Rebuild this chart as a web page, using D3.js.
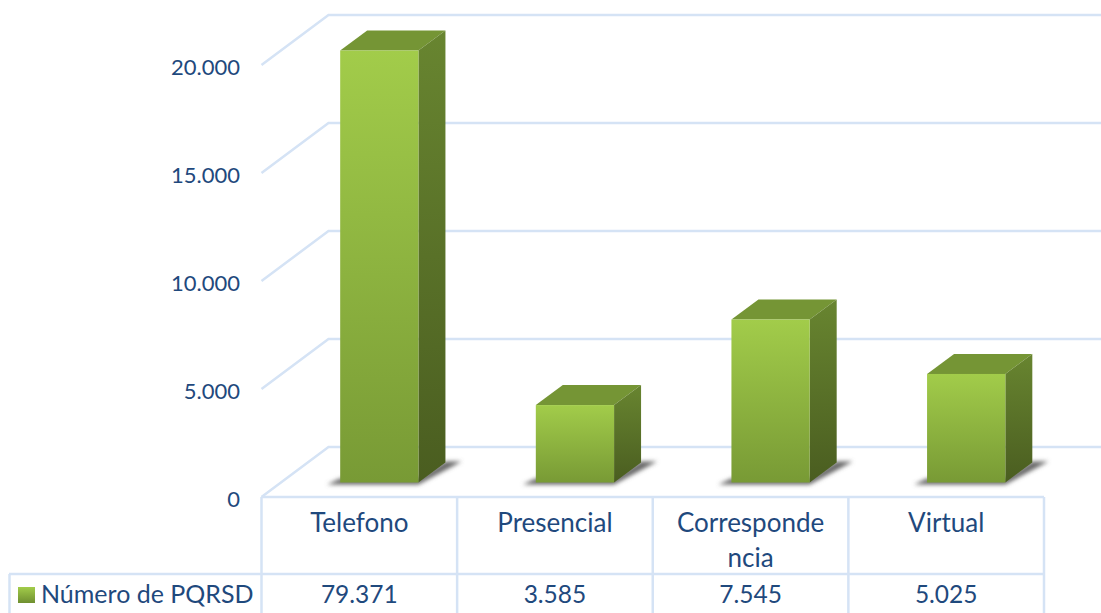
<!DOCTYPE html>
<html>
<head>
<meta charset="utf-8">
<script src="https://cdn.jsdelivr.net/npm/d3@7"></script>
<style>
  html, body { margin: 0; padding: 0; background: #fff; }
  text { font-family: Lato, "Open Sans", sans-serif; font-size: 26px; fill: #1f497d; }
  .tick-label { font-size: 22px; }
  .value-label { font-size: 24.5px; }
  .legend-label { font-size: 25px; }
</style>
</head>
<body>
<div id="chart"></div>
<script>
const categories = ["Telefono", "Presencial", "Correspondencia", "Virtual"];
const categoryLines = [["Telefono"], ["Presencial"], ["Corresponde", "ncia"], ["Virtual"]];
const values = [79371, 3585, 7545, 5025];
const valueLabels = ["79.371", "3.585", "7.545", "5.025"];
const yTicks = [0, 5000, 10000, 15000, 20000];
const seriesName = "Número de PQRSD";

const width = 1101, height = 613;

const gridColor = "#d5e3f5";
const wall = {dx: 67, dy: -50};     // depth of the chart floor
const depth = {dx: 27, dy: -20};    // depth of one bar
const lift = {dx: 20, dy: -14.5};   // bars sit part way back on the floor

let svg = d3.select("#chart").append("svg")
    .attr("width", width)
    .attr("height", height)
    .style("display", "block");

let x = d3.scaleBand().domain(categories).range([261.5, 1044]).paddingInner(0.6).paddingOuter(0.3),
    y = d3.scaleLinear().domain([0, 20000]).range([497, 65]).clamp(true);

let cell = d3.scaleBand().domain(categories).range([261.5, 1044]);

let fmt = d3.format(",");
let yLabel = d => fmt(d).replace(/,/g, ".");

// ===== Gradients =====

let defs = svg.append("defs");

let frontGrad = defs.append("linearGradient").attr("id", "front")
    .attr("x1", 0).attr("y1", 0).attr("x2", 0).attr("y2", 1);
frontGrad.append("stop").attr("offset", "0%").attr("stop-color", "#a2cc4a");
frontGrad.append("stop").attr("offset", "100%").attr("stop-color", "#789a35");

let sideGrad = defs.append("linearGradient").attr("id", "side")
    .attr("x1", 0).attr("y1", 0).attr("x2", 0).attr("y2", 1);
sideGrad.append("stop").attr("offset", "0%").attr("stop-color", "#688530");
sideGrad.append("stop").attr("offset", "100%").attr("stop-color", "#4a5d20");

let swatchGrad = defs.append("linearGradient").attr("id", "swatch")
    .attr("x1", 0).attr("y1", 0).attr("x2", 0).attr("y2", 1);
swatchGrad.append("stop").attr("offset", "0%").attr("stop-color", "#a2cc4a");
swatchGrad.append("stop").attr("offset", "100%").attr("stop-color", "#6f8f30");

defs.append("filter").attr("id", "blur")
    .attr("x", "-20%").attr("y", "-50%").attr("width", "140%").attr("height", "200%")
  .append("feGaussianBlur").attr("stdDeviation", 2.2);

// ===== Grid =====

svg.append("g").selectAll("polyline")
  .data(yTicks)
  .enter().append("polyline")
    .attr("fill", "none")
    .attr("stroke", gridColor)
    .attr("stroke-width", 2.5)
    .attr("points", d => [
      [261.5, y(d)],
      [261.5 + wall.dx, y(d) + wall.dy],
      [width, y(d) + wall.dy]
    ].join(" "));

// y tick labels
svg.append("g").selectAll("text")
  .data(yTicks)
  .enter().append("text")
    .attr("class", "tick-label")
    .attr("x", 240)
    .attr("y", d => y(d) + 2)
    .attr("dy", "0.35em")
    .attr("text-anchor", "end")
    .text(yLabel);

// ===== Bars =====

let bars = svg.append("g").selectAll("g")
  .data(categories.map((c, i) => ({c: c, v: values[i]})))
  .enter().append("g");

let bx = d => x(d.c) + lift.dx,
    base = y(0) + lift.dy,
    barTop = d => y(d.v) + lift.dy;

// floor shadow
bars.append("polygon")
    .attr("fill", "#666")
    .attr("filter", "url(#blur)")
    .attr("points", d => {
      let l = bx(d), r = l + x.bandwidth();
      return [[l - 13, base + 2], [r, base + 2], [r + depth.dx + 16, base + depth.dy - 1], [r + depth.dx, base + depth.dy - 1], [r, base - 4], [l, base - 4]].join(" ");
    });

bars.append("polygon")
    .attr("fill", "#759535")
    .attr("points", d => {
      let l = bx(d), r = l + x.bandwidth(), t = barTop(d);
      return [[l, t], [r, t], [r + depth.dx, t + depth.dy], [l + depth.dx, t + depth.dy]].join(" ");
    });

bars.append("polygon")
    .attr("fill", "url(#side)")
    .attr("points", d => {
      let r = bx(d) + x.bandwidth(), t = barTop(d);
      return [[r, t], [r + depth.dx, t + depth.dy], [r + depth.dx, base + depth.dy], [r, base]].join(" ");
    });

bars.append("rect")
    .attr("fill", "url(#front)")
    .attr("x", bx)
    .attr("y", barTop)
    .attr("width", x.bandwidth())
    .attr("height", d => base - barTop(d));

// ===== Data table =====

const rowLine = 574;
let table = svg.append("g")
    .attr("stroke", gridColor)
    .attr("stroke-width", 2.5);

table.append("line").attr("x1", 261.5).attr("x2", 1044).attr("y1", y(0)).attr("y2", y(0));
table.append("line").attr("x1", 9).attr("x2", 1044).attr("y1", rowLine).attr("y2", rowLine);
table.append("line").attr("x1", 9.5).attr("x2", 9.5).attr("y1", rowLine).attr("y2", height);

table.selectAll(".col")
  .data([261.5, cell(categories[1]), cell(categories[2]), cell(categories[3]), 1044])
  .enter().append("line")
    .attr("class", "col")
    .attr("x1", d => d).attr("x2", d => d)
    .attr("y1", y(0)).attr("y2", height);

let catLabels = svg.append("g").selectAll("text")
  .data(categories.map((c, i) => ({c: c, lines: categoryLines[i]})))
  .enter().append("text")
    .attr("text-anchor", "middle");

catLabels.selectAll("tspan")
  .data(d => d.lines.map(l => ({c: d.c, l: l})))
  .enter().append("tspan")
    .attr("x", d => cell(d.c) + cell.bandwidth() / 2)
    .attr("y", (d, i) => 532 + i * 34.5)
    .text(d => d.l);

svg.append("g").selectAll("text")
  .data(categories.map((c, i) => ({c: c, t: valueLabels[i]})))
  .enter().append("text")
    .attr("class", "value-label")
    .attr("text-anchor", "middle")
    .attr("x", d => cell(d.c) + cell.bandwidth() / 2)
    .attr("y", 603)
    .text(d => d.t);

// legend key
svg.append("rect")
    .attr("x", 18).attr("y", 587)
    .attr("width", 17).attr("height", 16)
    .attr("fill", "url(#swatch)");

svg.append("text")
    .attr("class", "legend-label")
    .attr("x", 41).attr("y", 603)
    .text(seriesName);
</script>
</body>
</html>
